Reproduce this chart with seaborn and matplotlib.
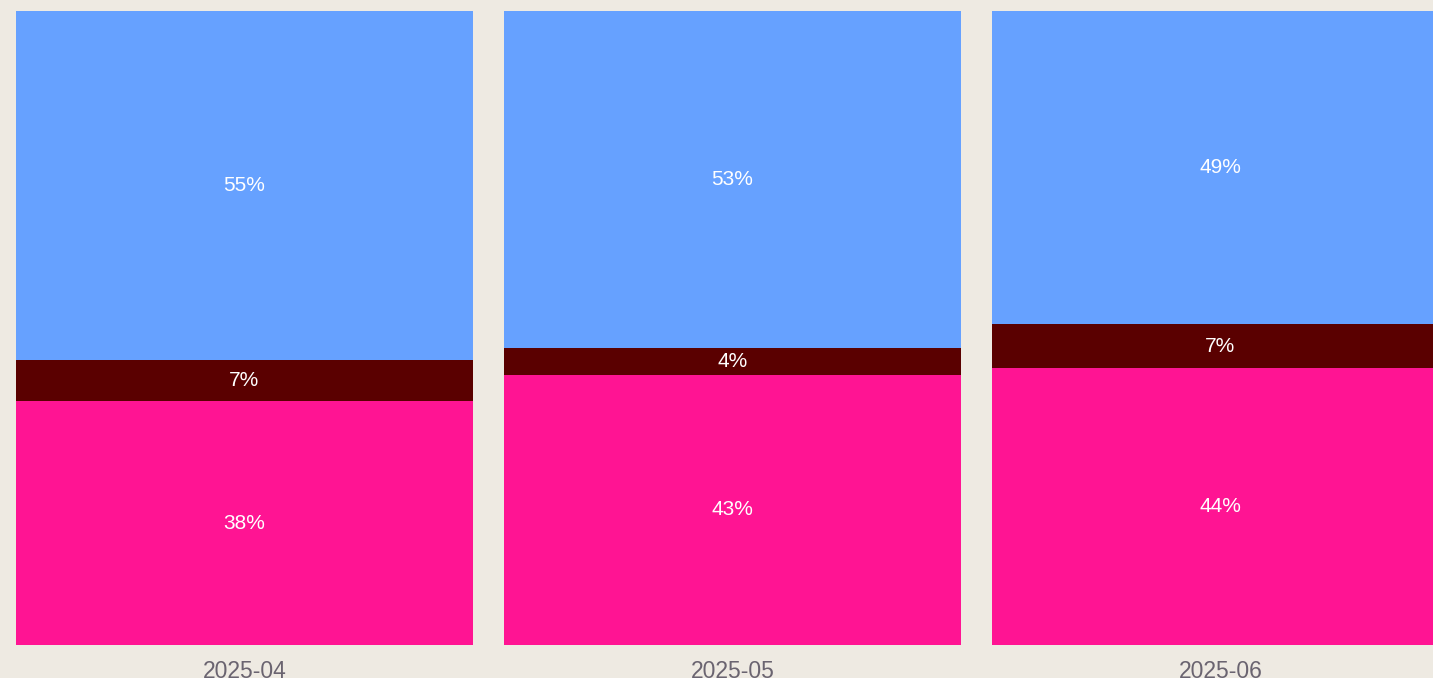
import pandas as pd
import seaborn as sns
import matplotlib

matplotlib.use("Agg")
import matplotlib.pyplot as plt

# monthly shares, percent (bottom -> top)
months = ["2025-04", "2025-05", "2025-06"]
pink_share = [38.4, 42.6, 43.6]
dark_share = [6.6, 4.2, 7.0]
blue_share = [55.0, 53.2, 49.4]

BG = "#EEEAE2"
PINK = "#FF1493"
DARK = "#5A0000"
BLUE = "#66A1FF"

sns.set_style("white")
plt.rcParams["font.family"] = ["Liberation Sans", "DejaVu Sans"]

df = pd.DataFrame(
    {"month": months, "pink": pink_share, "dark": dark_share, "blue": blue_share}
)
df["c_pink"] = df["pink"]
df["c_dark"] = df["c_pink"] + df["dark"]
df["c_blue"] = df["c_dark"] + df["blue"]

fig = plt.figure(figsize=(14.33, 6.78), dpi=100, facecolor=BG)
ax = fig.add_axes([0, 0.0487, 1, 0.9355])
ax.set_facecolor(BG)

# overlapped cumulative bars, top layer first
for col, color in [("c_blue", BLUE), ("c_dark", DARK), ("c_pink", PINK)]:
    sns.barplot(
        data=df, x="month", y=col, color=color, width=0.9375,
        linewidth=0, saturation=1, ax=ax,
    )

for i, row in df.iterrows():
    for seg, cum in [("pink", "c_pink"), ("dark", "c_dark"), ("blue", "c_blue")]:
        ax.text(
            i, row[cum] - row[seg] / 2, f"{row[seg]:.0f}%",
            ha="center", va="center", color="white", fontsize=15,
        )

ax.set_xlim(-0.501, 2.4355)
ax.set_ylim(0, 100)
ax.set_xlabel("")
ax.set_ylabel("")
ax.set_yticks([])
ax.tick_params(axis="x", length=0, pad=11, labelsize=16.5, labelcolor="#6A6470")
sns.despine(ax=ax, left=True, bottom=True, right=True, top=True)

fig.savefig("out.png", dpi=100, facecolor=BG)
